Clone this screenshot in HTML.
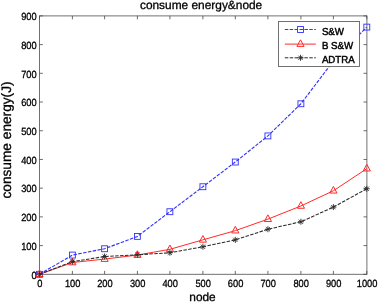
<!DOCTYPE html>
<html><head><meta charset="utf-8"><title>consume energy&amp;node</title>
<style>html,body{margin:0;padding:0;background:#fff}svg{display:block}</style></head>
<body>
<svg width="378" height="302" viewBox="0 0 378 302" font-family="Liberation Sans, Arial, Helvetica, sans-serif" fill="#000" stroke="#000" stroke-width="0.3" text-rendering="geometricPrecision">
<rect width="378" height="302" fill="#fff" stroke="none"/>
<rect x="39.5" y="15.9" width="327.40" height="258.40" fill="none" stroke="#626262" stroke-width="0.9"/>
<path d="M39.50 274.30 V270.90 M39.50 15.90 V19.30 M72.40 274.30 V270.90 M72.40 15.90 V19.30 M104.60 274.30 V270.90 M104.60 15.90 V19.30 M137.40 274.30 V270.90 M137.40 15.90 V19.30 M169.90 274.30 V270.90 M169.90 15.90 V19.30 M202.90 274.30 V270.90 M202.90 15.90 V19.30 M235.30 274.30 V270.90 M235.30 15.90 V19.30 M267.90 274.30 V270.90 M267.90 15.90 V19.30 M300.90 274.30 V270.90 M300.90 15.90 V19.30 M333.40 274.30 V270.90 M333.40 15.90 V19.30 M366.80 274.30 V270.90 M366.80 15.90 V19.30 M39.50 274.30 H42.90 M366.90 274.30 H363.50 M39.50 245.59 H42.90 M366.90 245.59 H363.50 M39.50 216.88 H42.90 M366.90 216.88 H363.50 M39.50 188.17 H42.90 M366.90 188.17 H363.50 M39.50 159.46 H42.90 M366.90 159.46 H363.50 M39.50 130.74 H42.90 M366.90 130.74 H363.50 M39.50 102.03 H42.90 M366.90 102.03 H363.50 M39.50 73.32 H42.90 M366.90 73.32 H363.50 M39.50 44.61 H42.90 M366.90 44.61 H363.50 M39.50 15.90 H42.90 M366.90 15.90 H363.50" fill="none" stroke="#484848" stroke-width="0.8"/>
<text transform="translate(39.80 287.00) scale(0.895 1)" font-size="10.4" text-anchor="middle">0</text>
<text transform="translate(72.70 287.00) scale(0.895 1)" font-size="10.4" text-anchor="middle">100</text>
<text transform="translate(104.90 287.00) scale(0.895 1)" font-size="10.4" text-anchor="middle">200</text>
<text transform="translate(137.70 287.00) scale(0.895 1)" font-size="10.4" text-anchor="middle">300</text>
<text transform="translate(170.20 287.00) scale(0.895 1)" font-size="10.4" text-anchor="middle">400</text>
<text transform="translate(203.20 287.00) scale(0.895 1)" font-size="10.4" text-anchor="middle">500</text>
<text transform="translate(235.60 287.00) scale(0.895 1)" font-size="10.4" text-anchor="middle">600</text>
<text transform="translate(268.20 287.00) scale(0.895 1)" font-size="10.4" text-anchor="middle">700</text>
<text transform="translate(301.20 287.00) scale(0.895 1)" font-size="10.4" text-anchor="middle">800</text>
<text transform="translate(333.70 287.00) scale(0.895 1)" font-size="10.4" text-anchor="middle">900</text>
<text transform="translate(367.10 287.00) scale(0.895 1)" font-size="10.4" text-anchor="middle">1000</text>
<text transform="translate(36.70 278.50) scale(0.895 1)" font-size="10.4" text-anchor="end">0</text>
<text transform="translate(36.70 249.79) scale(0.895 1)" font-size="10.4" text-anchor="end">100</text>
<text transform="translate(36.70 221.08) scale(0.895 1)" font-size="10.4" text-anchor="end">200</text>
<text transform="translate(36.70 192.37) scale(0.895 1)" font-size="10.4" text-anchor="end">300</text>
<text transform="translate(36.70 163.66) scale(0.895 1)" font-size="10.4" text-anchor="end">400</text>
<text transform="translate(36.70 134.94) scale(0.895 1)" font-size="10.4" text-anchor="end">500</text>
<text transform="translate(36.70 106.23) scale(0.895 1)" font-size="10.4" text-anchor="end">600</text>
<text transform="translate(36.70 77.52) scale(0.895 1)" font-size="10.4" text-anchor="end">700</text>
<text transform="translate(36.70 48.81) scale(0.895 1)" font-size="10.4" text-anchor="end">800</text>
<text transform="translate(36.70 20.10) scale(0.895 1)" font-size="10.4" text-anchor="end">900</text>
<text x="201.1" y="9.3" font-size="11.9" text-anchor="middle">consume energy&amp;node</text>
<text x="202.5" y="300.5" font-size="11.9" text-anchor="middle">node</text>
<text transform="translate(11.2 140) rotate(-90)" font-size="13.7" text-anchor="middle">consume energy(J)</text>
<polyline points="39.50,274.30 72.40,255.06 104.60,248.75 137.40,236.40 169.90,211.71 202.90,186.73 235.30,162.04 267.90,135.91 300.90,103.76 333.40,60.98 366.80,27.10" fill="none" stroke="#3030ff" stroke-width="1.12" stroke-dasharray="3.5 1.4"/>
<rect x="36.55" y="271.35" width="5.90" height="5.90" fill="none" stroke="#3030ff" stroke-width="0.9"/>
<rect x="69.45" y="252.11" width="5.90" height="5.90" fill="none" stroke="#3030ff" stroke-width="0.9"/>
<rect x="101.65" y="245.80" width="5.90" height="5.90" fill="none" stroke="#3030ff" stroke-width="0.9"/>
<rect x="134.45" y="233.45" width="5.90" height="5.90" fill="none" stroke="#3030ff" stroke-width="0.9"/>
<rect x="166.95" y="208.76" width="5.90" height="5.90" fill="none" stroke="#3030ff" stroke-width="0.9"/>
<rect x="199.95" y="183.78" width="5.90" height="5.90" fill="none" stroke="#3030ff" stroke-width="0.9"/>
<rect x="232.35" y="159.09" width="5.90" height="5.90" fill="none" stroke="#3030ff" stroke-width="0.9"/>
<rect x="264.95" y="132.96" width="5.90" height="5.90" fill="none" stroke="#3030ff" stroke-width="0.9"/>
<rect x="297.95" y="100.81" width="5.90" height="5.90" fill="none" stroke="#3030ff" stroke-width="0.9"/>
<rect x="330.45" y="58.03" width="5.90" height="5.90" fill="none" stroke="#3030ff" stroke-width="0.9"/>
<rect x="363.85" y="24.15" width="5.90" height="5.90" fill="none" stroke="#3030ff" stroke-width="0.9"/>
<polyline points="39.50,274.30 72.40,262.53 104.60,259.08 137.40,255.06 169.90,249.32 202.90,239.85 235.30,230.66 267.90,219.17 300.90,205.97 333.40,190.75 366.80,168.64" fill="none" stroke="#ff2a2a" stroke-width="1.0"/>
<path d="M35.90 276.60 L43.10 276.60 L39.50 270.00 Z" fill="none" stroke="#ff2a2a" stroke-width="1.0"/>
<path d="M68.80 264.83 L76.00 264.83 L72.40 258.23 Z" fill="none" stroke="#ff2a2a" stroke-width="1.0"/>
<path d="M101.00 261.38 L108.20 261.38 L104.60 254.78 Z" fill="none" stroke="#ff2a2a" stroke-width="1.0"/>
<path d="M133.80 257.36 L141.00 257.36 L137.40 250.76 Z" fill="none" stroke="#ff2a2a" stroke-width="1.0"/>
<path d="M166.30 251.62 L173.50 251.62 L169.90 245.02 Z" fill="none" stroke="#ff2a2a" stroke-width="1.0"/>
<path d="M199.30 242.15 L206.50 242.15 L202.90 235.55 Z" fill="none" stroke="#ff2a2a" stroke-width="1.0"/>
<path d="M231.70 232.96 L238.90 232.96 L235.30 226.36 Z" fill="none" stroke="#ff2a2a" stroke-width="1.0"/>
<path d="M264.30 221.47 L271.50 221.47 L267.90 214.87 Z" fill="none" stroke="#ff2a2a" stroke-width="1.0"/>
<path d="M297.30 208.27 L304.50 208.27 L300.90 201.67 Z" fill="none" stroke="#ff2a2a" stroke-width="1.0"/>
<path d="M329.80 193.05 L337.00 193.05 L333.40 186.45 Z" fill="none" stroke="#ff2a2a" stroke-width="1.0"/>
<path d="M363.20 170.94 L370.40 170.94 L366.80 164.34 Z" fill="none" stroke="#ff2a2a" stroke-width="1.0"/>
<polyline points="39.50,274.30 72.40,261.67 104.60,256.50 137.40,254.78 169.90,252.77 202.90,246.74 235.30,239.85 267.90,229.22 300.90,221.76 333.40,207.12 366.80,188.74" fill="none" stroke="#2a2a2a" stroke-width="1.08" stroke-dasharray="3.5 1.4"/>
<path d="M36.50 274.30 H42.50 M39.50 271.30 V277.30 M37.38 272.18 L41.62 276.42 M37.38 276.42 L41.62 272.18" fill="none" stroke="#2a2a2a" stroke-width="0.9"/>
<path d="M69.40 261.67 H75.40 M72.40 258.67 V264.67 M70.28 259.55 L74.52 263.79 M70.28 263.79 L74.52 259.55" fill="none" stroke="#2a2a2a" stroke-width="0.9"/>
<path d="M101.60 256.50 H107.60 M104.60 253.50 V259.50 M102.48 254.38 L106.72 258.62 M102.48 258.62 L106.72 254.38" fill="none" stroke="#2a2a2a" stroke-width="0.9"/>
<path d="M134.40 254.78 H140.40 M137.40 251.78 V257.78 M135.28 252.66 L139.52 256.90 M135.28 256.90 L139.52 252.66" fill="none" stroke="#2a2a2a" stroke-width="0.9"/>
<path d="M166.90 252.77 H172.90 M169.90 249.77 V255.77 M167.78 250.65 L172.02 254.89 M167.78 254.89 L172.02 250.65" fill="none" stroke="#2a2a2a" stroke-width="0.9"/>
<path d="M199.90 246.74 H205.90 M202.90 243.74 V249.74 M200.78 244.62 L205.02 248.86 M200.78 248.86 L205.02 244.62" fill="none" stroke="#2a2a2a" stroke-width="0.9"/>
<path d="M232.30 239.85 H238.30 M235.30 236.85 V242.85 M233.18 237.73 L237.42 241.97 M233.18 241.97 L237.42 237.73" fill="none" stroke="#2a2a2a" stroke-width="0.9"/>
<path d="M264.90 229.22 H270.90 M267.90 226.22 V232.22 M265.78 227.10 L270.02 231.34 M265.78 231.34 L270.02 227.10" fill="none" stroke="#2a2a2a" stroke-width="0.9"/>
<path d="M297.90 221.76 H303.90 M300.90 218.76 V224.76 M298.78 219.64 L303.02 223.88 M298.78 223.88 L303.02 219.64" fill="none" stroke="#2a2a2a" stroke-width="0.9"/>
<path d="M330.40 207.12 H336.40 M333.40 204.12 V210.12 M331.28 204.99 L335.52 209.24 M331.28 209.24 L335.52 204.99" fill="none" stroke="#2a2a2a" stroke-width="0.9"/>
<path d="M363.80 188.74 H369.80 M366.80 185.74 V191.74 M364.68 186.62 L368.92 190.86 M364.68 190.86 L368.92 186.62" fill="none" stroke="#2a2a2a" stroke-width="0.9"/>
<rect x="278.5" y="21.5" width="81.00" height="45.00" fill="#fff" stroke="#626262" stroke-width="0.9"/>
<path d="M284.8 29.5 H315.8" stroke="#3030ff" stroke-width="1.0" stroke-dasharray="3.5 1.4" fill="none"/>
<rect x="297.55" y="26.55" width="5.90" height="5.90" fill="none" stroke="#3030ff" stroke-width="0.9"/>
<path d="M284.8 44.1 H315.8" stroke="#ff2a2a" stroke-width="1.0" fill="none"/>
<path d="M296.90 46.40 L304.10 46.40 L300.50 39.80 Z" fill="none" stroke="#ff2a2a" stroke-width="1.0"/>
<path d="M284.8 57.8 H315.8" stroke="#2a2a2a" stroke-width="1.0" stroke-dasharray="3.5 1.4" fill="none"/>
<path d="M297.50 57.80 H303.50 M300.50 54.80 V60.80 M298.38 55.68 L302.62 59.92 M298.38 59.92 L302.62 55.68" fill="none" stroke="#2a2a2a" stroke-width="0.9"/>
<text transform="translate(321.90 35.20) scale(0.96 1)" font-size="10.1" text-anchor="start" stroke-width="0.45">S&amp;W</text>
<text transform="translate(321.90 49.20) scale(0.96 1)" font-size="10.1" text-anchor="start" stroke-width="0.45">B S&amp;W</text>
<text transform="translate(321.90 63.20) scale(0.96 1)" font-size="10.1" text-anchor="start" stroke-width="0.45">ADTRA</text>
</svg>
</body></html>
